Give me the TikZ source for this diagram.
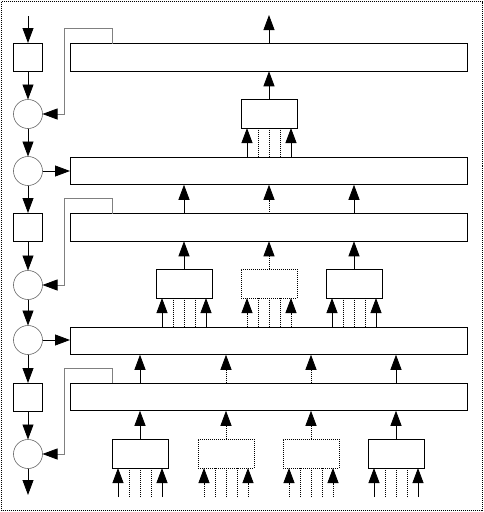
\documentclass[tikz,border=0pt]{standalone}
\usetikzlibrary{arrows.meta}
\begin{document}
\begin{tikzpicture}[x=1pt,y=-1pt,
  tipx/.tip={Triangle[length=15pt,width=11pt,color=black]},
  box/.style={draw=black,line width=0.8pt,minimum width=56pt,minimum height=29pt,inner sep=0pt,outer sep=0pt},
  dbox/.style={box,dash pattern=on 1pt off 1pt},
  bar/.style={draw=black,line width=0.8pt,minimum width=397pt,minimum height=27.5pt,inner sep=0pt,outer sep=0pt},
  sq/.style={draw=black,line width=0.8pt,minimum width=29pt,minimum height=28pt,inner sep=0pt,outer sep=0pt},
  circ/.style={circle,draw=black!60,line width=0.6pt,minimum size=29pt,inner sep=0pt,outer sep=0pt},
  arr/.style={-tipx,line width=0.8pt},
  darr/.style={arr,dash pattern=on 1pt off 1pt},
  dline/.style={line width=0.8pt,dash pattern=on 1pt off 1pt},
  sline/.style={line width=0.8pt},
  fb/.style={draw=black!50,line width=0.7pt,-tipx},
  frame/.style={draw=black,line width=0.6pt,dash pattern=on 1pt off 1pt}]
\useasboundingbox (0,0) rectangle (484,512);
\draw[frame] (1.5,1.5) rectangle (482.5,510.5);

% left column
\coordinate (top) at (28,16);
\coordinate (bot) at (28,495);
\node[sq] (sq1) at (28,57) {};
\node[circ] (c1) at (28,114) {};
\node[circ] (c2) at (28,171) {};
\node[sq] (sq2) at (28,227) {};
\node[circ] (c3) at (28,285) {};
\node[circ] (c4) at (28,340) {};
\node[sq] (sq3) at (28,397) {};
\node[circ] (c5) at (28,454) {};
\draw[arr] (top) -- (sq1);
\draw[arr] (sq1) -- (c1);
\draw[arr] (c1) -- (c2);
\draw[arr] (c2) -- (sq2);
\draw[arr] (sq2) -- (c3);
\draw[arr] (c3) -- (c4);
\draw[arr] (c4) -- (sq3);
\draw[arr] (sq3) -- (c5);
\draw[arr] (c5) -- (bot);

% bars
\node[bar] (bar1) at (268.5,57.5) {};
\node[bar] (bar2) at (268.5,171) {};
\node[bar] (bar3) at (268.5,227.5) {};
\node[bar] (bar4) at (268.5,341) {};
\node[bar] (bar5) at (268.5,397) {};
\draw[arr] (c2) -- (c2 -| bar2.west);
\draw[arr] (c4) -- (c4 -| bar4.west);

% feedback lines
\coordinate (f1) at (112,28);
\coordinate (f3) at (112,198);
\coordinate (f5) at (112,368);
\coordinate (fx) at (64,0);
\draw[fb] (bar1.north -| f1) -- (f1) -- (f1 -| fx) -- (c1 -| fx) -- (c1.east);
\draw[fb] (bar3.north -| f3) -- (f3) -- (f3 -| fx) -- (c3 -| fx) -- (c3.east);
\draw[fb] (bar5.north -| f5) -- (f5) -- (f5 -| fx) -- (c5 -| fx) -- (c5.east);

% blocks
\node[box] (T) at (269,113.5) {};
\node[box] (M1) at (184,283.5) {};
\node[dbox] (M2) at (269,283.5) {};
\node[box] (M3) at (354,283.5) {};
\node[box] (B1) at (140,453.5) {};
\node[dbox] (B2) at (226,453.5) {};
\node[dbox] (B3) at (311,453.5) {};
\node[box] (B4) at (396,453.5) {};
\coordinate (inb) at (0,497);
\coordinate (outT) at (269,15);

% outputs
\draw[arr] (bar1.north -| T) -- (outT);
\draw[arr] (T) -- (T |- bar1.south);
\draw[arr] (M1) -- (M1 |- bar3.south);
\draw[darr] (M2) -- (M2 |- bar3.south);
\draw[arr] (M3) -- (M3 |- bar3.south);
\draw[arr] (bar3.north -| M1) -- (bar2.south -| M1);
\draw[darr] (bar3.north -| M2) -- (bar2.south -| M2);
\draw[arr] (bar3.north -| M3) -- (bar2.south -| M3);
\draw[arr] (B1) -- (B1 |- bar5.south);
\draw[darr] (B2) -- (B2 |- bar5.south);
\draw[darr] (B3) -- (B3 |- bar5.south);
\draw[arr] (B4) -- (B4 |- bar5.south);
\draw[arr] (bar5.north -| B1) -- (bar4.south -| B1);
\draw[darr] (bar5.north -| B2) -- (bar4.south -| B2);
\draw[darr] (bar5.north -| B3) -- (bar4.south -| B3);
\draw[arr] (bar5.north -| B4) -- (bar4.south -| B4);

% inputs
\foreach \b/\src/\st/\ar in {T/bar2.north/sline/arr, M1/bar4.north/sline/arr, M2/bar4.north/dline/darr, M3/bar4.north/sline/arr,
  B1/inb/sline/arr, B2/inb/dline/darr, B3/inb/dline/darr, B4/inb/sline/arr}{
  \draw[\ar] ([xshift=-22pt]\b.south |- \src) -- ([xshift=-22pt]\b.south);
  \draw[\ar] ([xshift=22pt]\b.south |- \src) -- ([xshift=22pt]\b.south);
  \draw[dline] ([xshift=-11pt]\b.south |- \src) -- ([xshift=-11pt]\b.south);
  \draw[dline] (\b.south |- \src) -- (\b.south);
  \draw[dline] ([xshift=11pt]\b.south |- \src) -- ([xshift=11pt]\b.south);
}
\end{tikzpicture}
\end{document}
